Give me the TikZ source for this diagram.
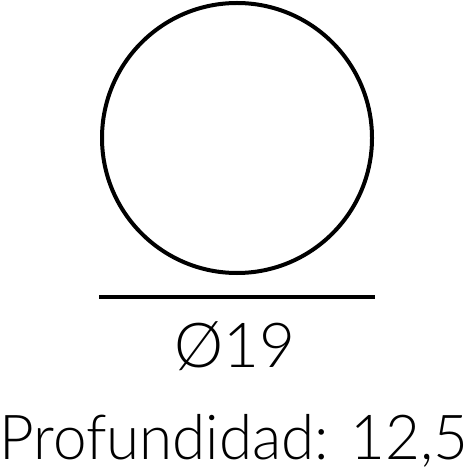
\documentclass[tikz,border=0pt]{standalone}
\usepackage{fontspec}
\setmainfont{Lato}[UprightFont=* Light]
\tikzset{
  label text/.style={anchor=base, inner sep=0pt, font=\fontsize{62}{62}\selectfont}
}
\begin{document}
\begin{tikzpicture}[x=1pt,y=-1pt]
    \useasboundingbox (0,0) rectangle (470,470);
    \node[draw, circle, line width=4pt, minimum size=270pt, inner sep=0pt] (hole) at (237,138) {};
    \coordinate (bl) at (99,297);
    \coordinate (br) at (375,297);
    \draw[line width=4pt] (bl) -- (br);
    \node[label text] (diam) at (235,367) {Ø19};
    \node[label text, xscale=0.97] (depth) at (234,459) {Profundidad: 12,5};
\end{tikzpicture}
\end{document}
